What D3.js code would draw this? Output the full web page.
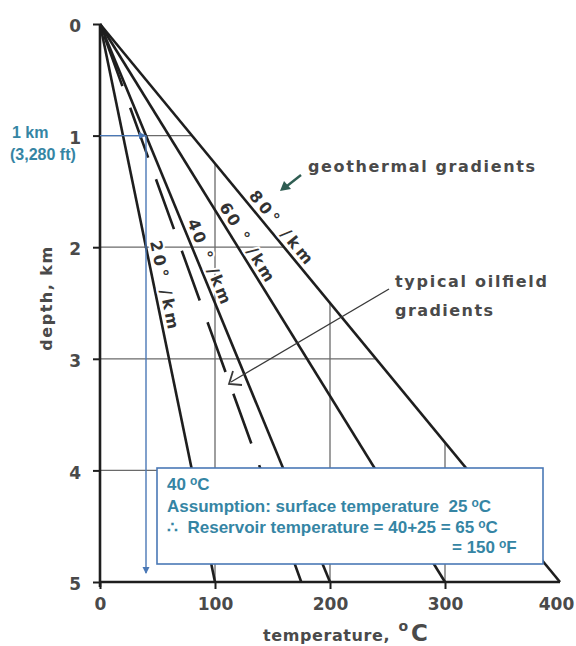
<!DOCTYPE html>
<html><head><meta charset="utf-8">
<script src="https://cdn.jsdelivr.net/npm/d3@7"></script>
<style>
html,body{margin:0;padding:0;background:#fff;}
svg{display:block;}
</style></head>
<body>
<svg id="chart" width="576" height="646"></svg>
<script>
// Temperature vs depth for several geothermal gradients
const depthTicks = [0, 1, 2, 3, 4, 5];            // km
const tempTicks = [0, 100, 200, 300, 400];        // °C
const gradients = [20, 40, 60, 80];               // °C per km
const gradientLabels = ["20° /km", "40 ° /km", "60 ° /km", "80° /km"];
const oilfieldGradients = [35];                   // typical oilfield gradient, °C per km
const gridDepths = [1, 2, 3, 4];
const gridTemps = [100, 200, 300];
const readDepth = 1;          // km
const readDepthFt = "3,280";  // ft
const readTemp = 40;          // °C read at 1 km
const surfaceTemp = 25;       // °C
const reservoirTempC = readTemp + surfaceTemp;   // 65 °C
const reservoirTempF = 150;   // °F
const maxDepth = 5;
const maxTemp = 400;

const svg = d3.select("#chart");
const x = d3.scaleLinear().domain([0, maxTemp]).range([100, 560]);
const y = d3.scaleLinear().domain([0, maxDepth]).range([24, 582]);
const line = d3.line().x(d => x(d[0])).y(d => y(d[1]));

const ink = "#1e1e1e", gridInk = "#6a6a6a", labelInk = "#4a4a4a";
const blue = "#4a78b6", teal = "#3585a4";
const steepest = d3.max(gradients);

// grid: horizontal lines stop at the steepest gradient, vertical lines rise to it
const grid = svg.append("g").attr("stroke", gridInk).attr("stroke-width", 1.3).attr("fill", "none");
grid.selectAll("path.h").data(gridDepths).join("path").attr("class", "h")
  .attr("d", d => line([[0, d], [steepest * d, d]]));
grid.selectAll("path.v").data(gridTemps).join("path").attr("class", "v")
  .attr("d", t => line([[t, maxDepth], [t, t / steepest]]));

// axes
const yAxis = d3.axisLeft(y).tickValues(depthTicks).tickSize(7).tickPadding(12).tickFormat(d3.format("d"));
const xAxis = d3.axisBottom(x).tickValues(tempTicks).tickSize(7).tickPadding(9).tickFormat(d3.format("d"));
const axisFont = g => g.call(s => s.select(".domain").attr("stroke", ink).attr("stroke-width", 2.6))
  .call(s => s.selectAll(".tick line").attr("stroke", ink).attr("stroke-width", 2))
  .call(s => s.selectAll(".tick text").attr("fill", labelInk)
    .attr("font-family", "DejaVu Sans").attr("font-weight", "bold").attr("font-size", 17));
svg.append("g").attr("transform", `translate(${x(0)},0)`).call(yAxis).call(axisFont)
  .call(g => g.select(".domain").attr("d", `M0,${y(0)}V${y(maxDepth) + 5}`))
  .call(g => g.selectAll(".tick text").attr("dy", "0.45em"));
svg.append("g").attr("transform", `translate(0,${y(maxDepth)})`).call(xAxis).call(axisFont)
  .call(g => g.select(".domain").attr("d", `M${x(0)},0H${x(maxTemp)}`))
  .call(g => g.selectAll(".tick").filter(d => d === maxTemp).select("line").remove())
  .call(g => g.selectAll(".tick").filter(d => d === maxTemp).select("text").attr("dx", -4));

// axis titles
svg.append("text").attr("transform", `translate(52,298) rotate(-90)`)
  .attr("text-anchor", "middle").attr("fill", labelInk)
  .attr("font-family", "DejaVu Sans").attr("font-weight", "bold").attr("font-size", 16)
  .attr("letter-spacing", 1.5).text("depth, km");
const xt = svg.append("text").attr("x", 263).attr("y", 641).attr("fill", labelInk)
  .attr("font-family", "DejaVu Sans").attr("font-weight", "bold");
xt.append("tspan").attr("font-size", 16).attr("letter-spacing", 0.6).text("temperature, ");
xt.append("tspan").attr("font-size", 14).attr("dy", -10).attr("dx", 2).text("o");
xt.append("tspan").attr("font-size", 23).attr("dy", 10).attr("dx", 3).text("C");

// typical oilfield gradient (dashed)
svg.append("g").selectAll("path").data(oilfieldGradients).join("path")
  .attr("d", g => line([[0, 0], [g * maxDepth, maxDepth]]))
  .attr("fill", "none").attr("stroke", ink).attr("stroke-width", 2.6)
  .attr("stroke-dasharray", "53 23").attr("stroke-dashoffset", 63);

// geothermal gradient lines
svg.append("g").selectAll("path").data(gradients).join("path")
  .attr("d", g => line([[0, 0], [g * maxDepth, maxDepth]]))
  .attr("fill", "none").attr("stroke", ink).attr("stroke-width", 2.6);

// labels running along each gradient line
const labelDepths = { 20: 1.96, 40: 1.79, 60: 1.66, 80: 1.57 };
svg.append("g").selectAll("text").data(gradients).join("text")
  .each(function (g, i) {
    const d = labelDepths[g];
    const px = x(g * d), py = y(d);
    const dx = x(g) - x(0), dy = y(1) - y(0);
    const len = Math.hypot(dx, dy), ux = dx / len, uy = dy / len;
    const ang = Math.atan2(uy, ux) * 180 / Math.PI;
    const bx = px + uy * 5, by = py - ux * 5;
    d3.select(this).attr("transform", `translate(${bx},${by}) rotate(${ang})`)
      .attr("textLength", 90).attr("lengthAdjust", "spacing")
      .text(gradientLabels[i]);
  })
  .attr("fill", "#333").attr("font-family", "DejaVu Sans").attr("font-weight", "bold")
  .attr("font-size", 16).attr("stroke", "#fff").attr("stroke-width", 4)
  .attr("paint-order", "stroke");

// callout: geothermal gradients
const noteFont = s => s.attr("fill", labelInk).attr("font-family", "DejaVu Sans")
  .attr("font-weight", "bold").attr("font-size", 16).attr("lengthAdjust", "spacing");
svg.append("text").attr("x", 308).attr("y", 172).attr("textLength", 227).call(noteFont).text("geothermal gradients");
svg.append("path").attr("d", "M301,175L287,186").attr("stroke", "#2f5d52").attr("stroke-width", 2.4).attr("fill", "none");
svg.append("path").attr("d", "M280,191L284,181L291,189Z").attr("fill", "#2f5d52");

// callout: typical oilfield gradients
svg.append("text").attr("x", 395).attr("y", 287).attr("textLength", 152).call(noteFont).text("typical oilfield");
svg.append("text").attr("x", 395).attr("y", 316).attr("textLength", 98).call(noteFont).text("gradients");
svg.append("path").attr("d", "M389,289L231,382").attr("stroke", "#3a3a3a").attr("stroke-width", 1.4).attr("fill", "none");
svg.append("path").attr("d", "M233,371L229,384L242,385").attr("stroke", "#3a3a3a").attr("stroke-width", 1.8).attr("fill", "none");

// reading at 1 km
const ah = (px, py, dir) => dir === "right"
  ? `M${px},${py}L${px - 7},${py - 3.5}L${px - 7},${py + 3.5}Z`
  : `M${px},${py}L${px - 3.5},${py - 7}L${px + 3.5},${py - 7}Z`;
svg.append("path").attr("d", line([[0, readDepth], [readTemp, readDepth]]))
  .attr("stroke", blue).attr("stroke-width", 1.4).attr("fill", "none");
svg.append("path").attr("d", ah(x(readTemp), y(readDepth), "right")).attr("fill", blue);
svg.append("path").attr("d", `M${x(readTemp)},${y(readDepth)}V${y(maxDepth) - 9}`)
  .attr("stroke", blue).attr("stroke-width", 1.4).attr("fill", "none");
svg.append("path").attr("d", ah(x(readTemp), y(maxDepth) - 8, "down")).attr("fill", blue);

const blueFont = s => s.attr("fill", teal).attr("font-family", "Liberation Sans, Arial, sans-serif")
  .attr("font-weight", "bold");
svg.append("text").attr("x", 12).attr("y", 138).attr("font-size", 16).call(blueFont).text(`${readDepth} km`);
svg.append("text").attr("x", 10).attr("y", 160).attr("font-size", 16).call(blueFont).text(`(${readDepthFt} ft)`);

// explanation box
svg.append("rect").attr("x", 157).attr("y", 468).attr("width", 386).attr("height", 96)
  .attr("fill", "#fff").attr("stroke", blue).attr("stroke-width", 1.6);
const box = svg.append("g").attr("font-size", 17).call(blueFont);
const sup = (t, s) => { t.append("tspan").attr("font-size", 12).attr("dy", -5).attr("dx", 4).text("o");
  t.append("tspan").attr("dy", 5).text(s); };
let t = box.append("text").attr("x", 167).attr("y", 490);
t.append("tspan").text(`${readTemp}`); sup(t, "C");
t = box.append("text").attr("x", 167).attr("y", 512);
t.append("tspan").text(`Assumption: surface temperature\u00a0\u00a0${surfaceTemp}`); sup(t, "C");
t = box.append("text").attr("x", 167).attr("y", 533);
t.append("tspan").text("\u2234\u00a0\u00a0Reservoir temperature = ");
t.append("tspan").text(`${readTemp}+${surfaceTemp} = ${reservoirTempC}`); sup(t, "C");
t = box.append("text").attr("x", 452).attr("y", 553);
t.append("tspan").text(`= ${reservoirTempF}`); sup(t, "F");
</script>
</body></html>
